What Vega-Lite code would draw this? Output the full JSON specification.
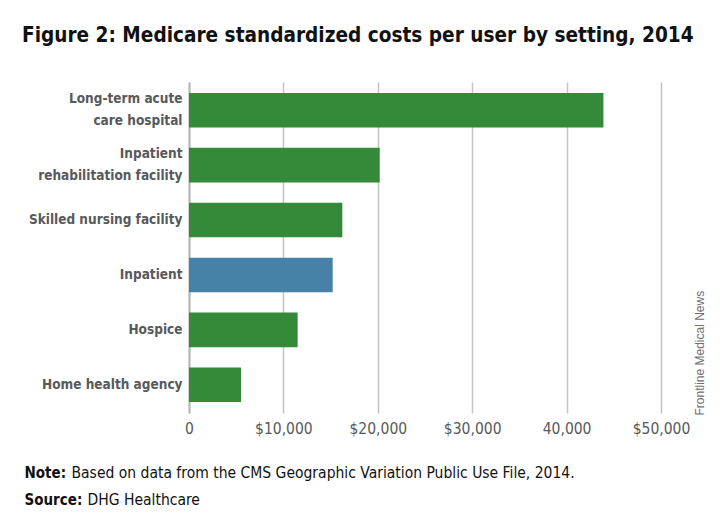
{
  "$schema": "https://vega.github.io/schema/vega-lite/v6.json",
  "width": 472,
  "height": 331,
  "autosize": {"type": "none"},
  "padding": {"left": 189, "top": 82, "right": 59, "bottom": 115},
  "background": "white",
  "title": {
    "text": "Figure 2: Medicare standardized costs per user by setting, 2014",
    "font": "DejaVu Sans Condensed, sans-serif",
    "fontSize": 20.6,
    "fontWeight": "bold",
    "color": "#111111",
    "anchor": "start",
    "frame": "group",
    "dx": -167,
    "offset": 35
  },
  "data": {
    "values": [
      {"setting": "Long-term acute|care hospital", "cost": 43900, "type": "post-acute"},
      {"setting": "Inpatient|rehabilitation facility", "cost": 20200, "type": "post-acute"},
      {"setting": "Skilled nursing facility", "cost": 16240, "type": "post-acute"},
      {"setting": "Inpatient", "cost": 15220, "type": "inpatient"},
      {"setting": "Hospice", "cost": 11510, "type": "post-acute"},
      {"setting": "Home health agency", "cost": 5510, "type": "post-acute"}
    ]
  },
  "config": {
    "view": {"stroke": null}
  },
  "layer": [
    {
      "mark": {"type": "bar"},
      "encoding": {
        "y": {
          "field": "setting",
          "type": "nominal",
          "sort": null,
          "scale": {"paddingInner": 0.37, "paddingOuter": 0.2},
          "axis": {
            "title": null,
            "labelExpr": "split(datum.label, '|')",
            "labelFont": "DejaVu Sans Condensed, sans-serif",
            "labelFontSize": 13.5,
            "labelFontWeight": "bold",
            "labelColor": "#58595b",
            "labelLineHeight": 22,
            "labelLimit": 300,
            "labelPadding": 7,
            "labelOffset": {"condition": {"test": "indexof(datum.value, '|') >= 0", "value": -11}, "value": 0},
            "ticks": false,
            "domainColor": "#b5b5b5",
            "domainWidth": 2
          }
        },
        "x": {
          "field": "cost",
          "type": "quantitative",
          "scale": {"domain": [0, 50000], "nice": false},
          "axis": {
            "orient": "bottom",
            "values": [0, 10000, 20000, 30000, 40000, 50000],
            "labelExpr": "datum.value == 0 ? '0' : datum.value == 40000 ? '40,000' : '$' + format(datum.value, ',')",
            "labelFont": "DejaVu Sans Condensed, sans-serif",
            "labelFontSize": 15.5,
            "labelColor": "#58595b",
            "labelPadding": 8,
            "labelFlush": false,
            "grid": true,
            "gridColor": "#c4c4c4",
            "gridWidth": 1.5,
            "domain": false,
            "ticks": false,
            "title": "Based on data from the CMS Geographic Variation Public Use File, 2014.",
            "titleFont": "DejaVu Sans Condensed, sans-serif",
            "titleFontSize": 15.5,
            "titleFontWeight": "normal",
            "titleColor": "#111111",
            "titleAnchor": "start",
            "titleAlign": "left",
            "titleBaseline": "alphabetic",
            "titleX": -118,
            "titleY": 64
          }
        },
        "color": {
          "field": "type",
          "type": "nominal",
          "scale": {"domain": ["post-acute", "inpatient"], "range": ["#348a38", "#4682a8"]},
          "legend": null
        }
      }
    },
    {
      "mark": {"type": "bar", "opacity": 0},
      "encoding": {
        "y": {
          "field": "setting",
          "type": "nominal",
          "sort": null,
          "axis": {
            "orient": "right",
            "labels": false,
            "ticks": false,
            "domain": false,
            "title": "Frontline Medical News",
            "titleFont": "Liberation Sans, Arial, sans-serif",
            "titleFontSize": 12,
            "titleFontWeight": "normal",
            "titleColor": "#6d6e71",
            "titleAngle": 270,
            "titleAlign": "left",
            "titleBaseline": "middle",
            "titleX": 38,
            "titleY": 333
          }
        },
        "x": {
          "field": "cost",
          "type": "quantitative",
          "axis": {
            "orient": "bottom",
            "labels": false,
            "ticks": false,
            "domain": false,
            "grid": false,
            "title": ["Note:", "Source:"],
            "titleFont": "DejaVu Sans Condensed, sans-serif",
            "titleFontSize": 15,
            "titleFontWeight": "bold",
            "titleColor": "#111111",
            "titleAnchor": "start",
            "titleAlign": "left",
            "titleBaseline": "alphabetic",
            "titleLineHeight": 27,
            "titleX": -165,
            "titleY": 64
          }
        }
      }
    },
    {
      "mark": {"type": "bar", "opacity": 0},
      "encoding": {
        "y": {"field": "setting", "type": "nominal", "sort": null, "axis": null},
        "x": {
          "field": "cost",
          "type": "quantitative",
          "axis": {
            "orient": "bottom",
            "labels": false,
            "ticks": false,
            "domain": false,
            "grid": false,
            "title": "DHG Healthcare",
            "titleFont": "DejaVu Sans Condensed, sans-serif",
            "titleFontSize": 15.5,
            "titleFontWeight": "normal",
            "titleColor": "#111111",
            "titleAnchor": "start",
            "titleAlign": "left",
            "titleBaseline": "alphabetic",
            "titleX": -102,
            "titleY": 91
          }
        }
      }
    }
  ],
  "resolve": {"axis": {"y": "independent", "x": "independent"}}
}
